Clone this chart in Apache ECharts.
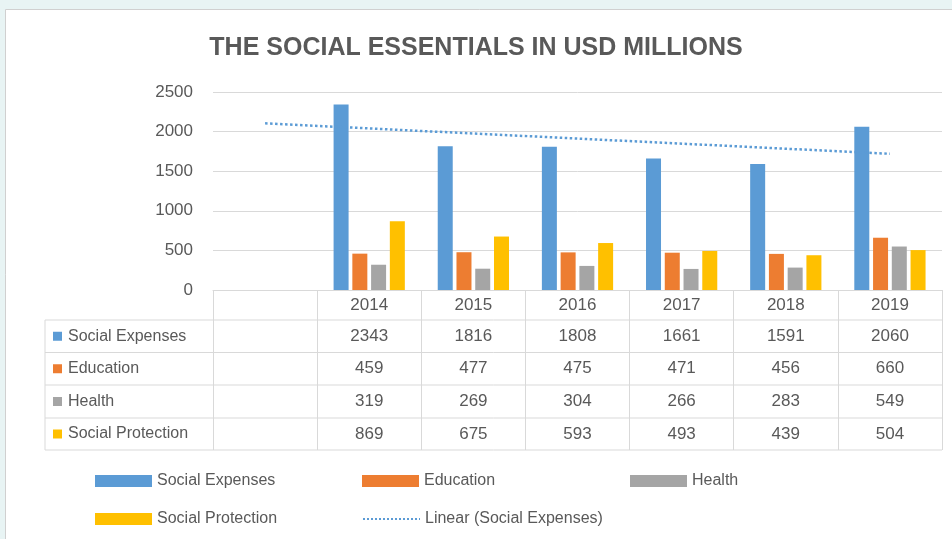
<!DOCTYPE html>
<html>
<head>
<meta charset="utf-8">
<script src="https://cdn.jsdelivr.net/npm/echarts@6/dist/echarts.min.js"></script>
<style>
html, body { margin: 0; padding: 0; background: #E8F4F4; }
#chart { width: 952px; height: 539px; }
</style>
</head>
<body>
<div id="chart"></div>
<script>
// data
var years = ['', '2014', '2015', '2016', '2017', '2018', '2019'];
var seriesNames = ['Social Expenses', 'Education', 'Health', 'Social Protection'];
var socialExpenses = [null, 2343, 1816, 1808, 1661, 1591, 2060];
var education = [null, 459, 477, 475, 471, 456, 660];
var health = [null, 319, 269, 304, 266, 283, 549];
var socialProtection = [null, 869, 675, 593, 493, 439, 504];
var trendName = 'Linear (Social Expenses)';
var trendSocialExpenses = [2104, null, null, null, null, null, 1720];
var yTicks = [0, 500, 1000, 1500, 2000, 2500];

var colors = ['#5B9BD5', '#ED7D31', '#A5A5A5', '#FFC000'];
var textColor = '#595959';
var lineColor = '#D9D9D9';
var font = 'Liberation Sans';

var allSeries = [socialExpenses, education, health, socialProtection];

// table layout (px)
var tableTop = 290, headerBottom = 320, tableBottom = 450;
var labelLeft = 45, gridLeft = 213, gridRight = 942;
var rowLines = [320, 352.5, 385, 418, 450];

var chart = echarts.init(document.getElementById('chart'));

var barSeries = seriesNames.map(function (name, i) {
	return {
		name: name,
		type: 'bar',
		data: allSeries[i],
		barWidth: 15,
		barGap: '25%',
		itemStyle: { color: colors[i] }
	};
});

var legendBase = {
	itemWidth: 57,
	itemHeight: 12,
	padding: 0,
	icon: 'rect',
	textStyle: { fontSize: 16, color: textColor, fontFamily: font }
};
function legendAt (name, left, top) {
	return Object.assign({}, legendBase, { data: [name], left: left, top: top });
}

var option = {
	backgroundColor: '#E8F4F4',
	animation: false,
	textStyle: { fontFamily: font },
	title: {
		text: 'THE SOCIAL ESSENTIALS IN USD MILLIONS',
		left: 'center',
		top: 36,
		padding: [0, 0, 0, 22],
		textStyle: { fontSize: 25, fontWeight: 'bold', color: textColor, fontFamily: font }
	},
	legend: [
		legendAt(seriesNames[0], 95, 473),
		legendAt(seriesNames[1], 362, 473),
		legendAt(seriesNames[2], 630, 473),
		legendAt(seriesNames[3], 95, 511),
		Object.assign(legendAt(trendName, 362, 511), {
			icon: null,
			itemStyle: { opacity: 0 },
			lineStyle: { type: [2, 2], width: 2 }
		})
	],
	grid: { left: gridLeft, right: 952 - gridRight, top: 92, bottom: 539 - tableTop },
	xAxis: {
		type: 'category',
		data: years,
		axisLine: { lineStyle: { color: lineColor } },
		axisTick: { show: true, length: tableBottom - tableTop, lineStyle: { color: lineColor } },
		axisLabel: { margin: 7, fontSize: 17, color: textColor }
	},
	yAxis: {
		type: 'value',
		min: yTicks[0],
		max: yTicks[yTicks.length - 1],
		interval: yTicks[1] - yTicks[0],
		axisLine: { show: false },
		axisTick: { show: false },
		splitLine: { lineStyle: { color: lineColor } },
		axisLabel: {
			margin: 20, fontSize: 17, color: textColor,
			formatter: function (v) { return String(v); }
		}
	},
	series: barSeries.concat([{
		name: trendName,
		type: 'line',
		data: trendSocialExpenses,
		connectNulls: true,
		symbol: 'none',
		z: 3,
		itemStyle: { color: colors[0] },
		lineStyle: { color: colors[0], width: 2.5, type: [2.5, 2.5] }
	}])
};

chart.setOption(option);

// data table drawn under the plot
var els = [{
	type: 'rect',
	z: -10,
	shape: { x: 5.5, y: 9.5, width: 960, height: 540 },
	style: { fill: '#fff', stroke: '#D0D0D0', lineWidth: 1 }
}];
rowLines.forEach(function (y) {
	els.push({ type: 'line', shape: { x1: labelLeft, y1: y, x2: gridRight, y2: y }, style: { stroke: lineColor, lineWidth: 1 } });
});
els.push({ type: 'line', shape: { x1: labelLeft, y1: headerBottom, x2: labelLeft, y2: tableBottom }, style: { stroke: lineColor, lineWidth: 1 } });

seriesNames.forEach(function (name, i) {
	var cy = (rowLines[i] + rowLines[i + 1]) / 2;
	els.push({ type: 'rect', shape: { x: 53, y: cy - 4.5, width: 9, height: 9 }, style: { fill: colors[i] } });
	els.push({
		type: 'text', x: 68, y: cy,
		style: { text: name, fontSize: 16, fill: textColor, fontFamily: font, verticalAlign: 'middle' }
	});
	allSeries[i].forEach(function (v, j) {
		if (v == null) return;
		var cx = chart.convertToPixel({ xAxisIndex: 0 }, years[j]);
		els.push({
			type: 'text', x: cx, y: cy,
			style: { text: String(v), fontSize: 17, fill: textColor, fontFamily: font, align: 'center', verticalAlign: 'middle' }
		});
	});
});

chart.setOption({ graphic: els });
</script>
</body>
</html>
